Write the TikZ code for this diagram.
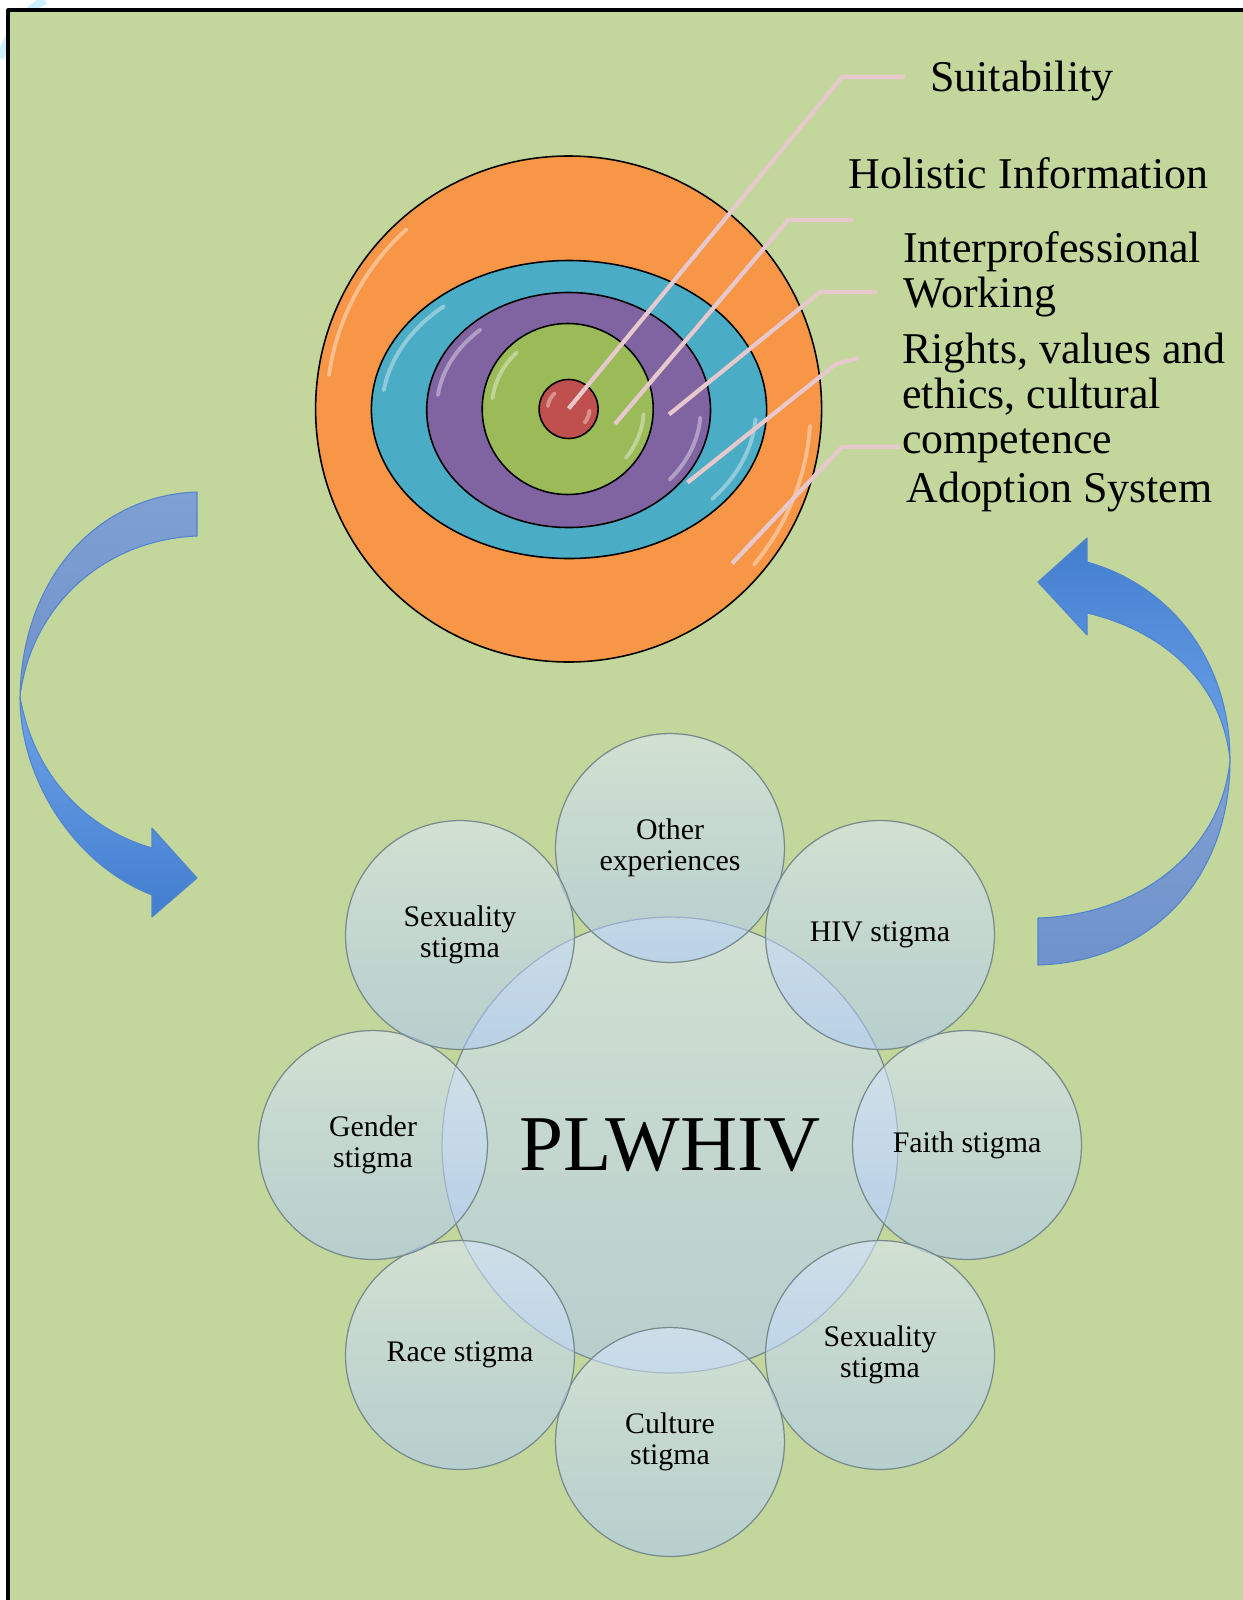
\documentclass[tikz,border=0pt]{standalone}
\usepackage{fontspec}
\setmainfont{Liberation Serif}
\usetikzlibrary{calc}

\definecolor{bggreen}{RGB}{195,214,155}
\definecolor{ringorange}{RGB}{247,150,70}
\definecolor{ringblue}{RGB}{75,172,198}
\definecolor{ringpurple}{RGB}{128,100,162}
\definecolor{ringgreen}{RGB}{155,187,89}
\definecolor{ringred}{RGB}{192,80,77}
\definecolor{leaderpink}{RGB}{230,200,205}
\definecolor{bubtop}{RGB}{222,234,255}
\definecolor{bubbot}{RGB}{173,201,248}
\definecolor{bubedge}{RGB}{120,138,140}
\definecolor{arredge}{RGB}{82,132,205}
\definecolor{arrback}{RGB}{127,160,210}
\definecolor{arrbackdk}{RGB}{112,146,204}
\definecolor{arrlight}{RGB}{110,162,232}
\definecolor{arrdark}{RGB}{66,126,207}
\definecolor{wmark}{RGB}{205,240,255}

\begin{document}
\begin{tikzpicture}[x=0.02cm,y=-0.02cm,line join=round,
  ring/.style={draw=black,line width=0.9pt},
  gloss/.style={draw=white,draw opacity=0.38,line width=2.2pt,line cap=round},
  leader/.style={draw=leaderpink,line width=2.4pt},
  lbl/.style={anchor=base west,align=left,inner sep=0pt,font=\fontsize{25}{25.6}\selectfont},
  bub/.style={circle,draw=bubedge,line width=0.7pt,minimum size=4.58cm,inner sep=0pt,
    top color=bubtop,bottom color=bubbot,fill opacity=0.55,text opacity=1,
    align=center,font=\fontsize{17}{17.6}\selectfont},
  arrback/.style={draw=arredge,line width=0.6pt,top color=arrback,bottom color=arrbackdk},
  arrfront/.style={draw=arredge,line width=0.6pt}]
  \useasboundingbox (0,0) rectangle (1243,1600);
  \draw[wmark,line width=4.5pt] (0,58) .. controls (10,30) and (25,10) .. (45,0);
  \fill[bggreen] (8,10) rectangle (1250,1610);
  \draw[line width=1.8pt] (8,1610) -- (8,10) -- (1250,10);

  % target
  \draw[ring,fill=ringorange] (568.6,409) circle (253);
  \draw[ring,fill=ringblue] (569,409.5) ellipse (197.6 and 149);
  \draw[ring,fill=ringpurple] (568.6,410) ellipse (141.9 and 117.5);
  \draw[ring,fill=ringgreen] (567.7,409) circle (85.5);
  \draw[ring,fill=ringred] (568.6,409) circle (29.5);
  \foreach \cx/\cy/\rx/\ry in {568.6/409/242/242,569/409.5/187/139,568.6/410/132/108,567.7/409/76/76,568.6/409/21/21}{
    \draw[gloss] (\cx,\cy) ++(-132:{\rx} and {\ry}) arc[start angle=-132,end angle=-172,x radius=\rx,y radius=\ry];
    \draw[gloss] (\cx,\cy) ++(4:{\rx} and {\ry}) arc[start angle=4,end angle=40,x radius=\rx,y radius=\ry];
  }

  \node[lbl] (suit) at (930,91) {Suitability};
  \node[lbl] (holi) at (848,188) {Holistic Information};
  \node[lbl] (inter) at (903,307) {Interprofessional\\Working};
  \node[lbl] (rights) at (902,453) {Rights, values and\\ethics, cultural\\competence};
  \node[lbl] (adopt) at (906,502) {Adoption System};

  \coordinate (p1) at (568.6,408.6); \coordinate (k1) at (842,77);  \coordinate (e1) at (905,77);
  \coordinate (p2) at (615,424);     \coordinate (k2) at (788,220); \coordinate (e2) at (853,220);
  \coordinate (p3) at (669,414.5);   \coordinate (k3) at (820,292); \coordinate (e3) at (877,292);
  \coordinate (p4) at (687.4,482.6); \coordinate (k4) at (836,364); \coordinate (e4) at (859,358);
  \coordinate (p5) at (732,563.6);   \coordinate (k5) at (842,447); \coordinate (e5) at (900,447);
  \foreach \i in {1,...,5}
    \draw[leader] (p\i) -- (k\i) -- (e\i);

  % arrows
  \path[arrback] (197,492) .. controls (100,495) and (22,575) .. (20,697)
    .. controls (30,610) and (100,540) .. (197,536) -- cycle;
  \path[arrfront,top color=arrlight,bottom color=arrdark] (20,697) .. controls (20,780) and (75,865) .. (152,895)
    -- (152,917) -- (197,878) -- (152,828) -- (152,848) .. controls (90,830) and (35,780) .. (20,697) -- cycle;
  \path[arrback] (1038,965) .. controls (1150,962) and (1230,880) .. (1230,760)
    .. controls (1222,850) and (1140,915) .. (1038,918) -- cycle;
  \path[arrfront,top color=arrdark,bottom color=arrlight] (1230,760) .. controls (1230,660) and (1170,585) .. (1087,562)
    -- (1087,538) -- (1038,582) -- (1087,635) -- (1087,613) .. controls (1160,630) and (1222,680) .. (1230,760) -- cycle;

  % bubbles
  \node[bub,minimum size=9.12cm,font=\fontsize{45}{50}\selectfont] (plw) at (670,1145) {PLWHIV};
  \foreach \ang/\nm/\txt in {-90/other/{Other\\experiences},-45/hiv/{HIV stigma},
      0/faith/{Faith stigma},45/sexr/{Sexuality\\stigma},90/cult/{Culture\\stigma},
      135/race/{Race stigma},180/gend/{Gender\\stigma},225/sexl/{Sexuality\\stigma}}
    \node[bub] (\nm) at ($(plw)+(\ang:297)$) {\txt};
\end{tikzpicture}
\end{document}
